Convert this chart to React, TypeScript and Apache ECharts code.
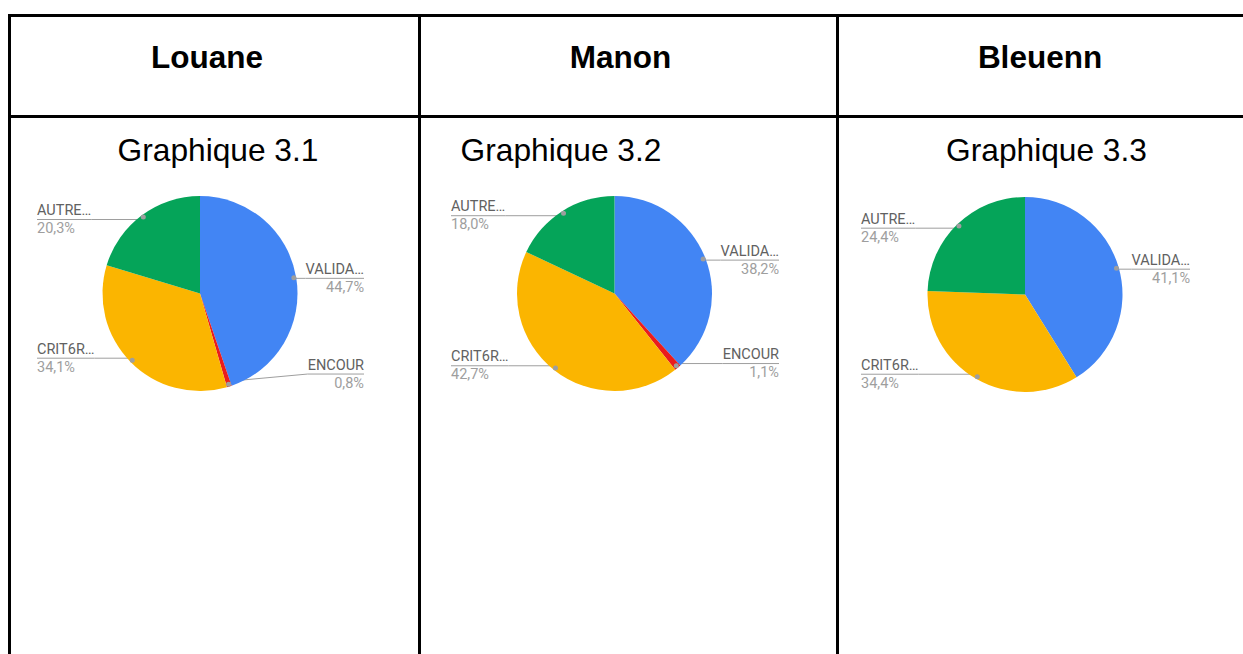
import React, { useEffect, useRef } from 'react';
import * as echarts from 'echarts';

// ---------- data ----------
const students = ['Louane', 'Manon', 'Bleuenn'];
const chartTitles = ['Graphique 3.1', 'Graphique 3.2', 'Graphique 3.3'];

const categories1 = ['VALIDA…', 'ENCOUR', 'CRIT6R…', 'AUTRE…'];
const values1 = [44.7, 0.8, 34.1, 20.3];

const categories2 = ['VALIDA…', 'ENCOUR', 'CRIT6R…', 'AUTRE…'];
const values2 = [38.2, 1.1, 42.7, 18.0];

const categories3 = ['VALIDA…', 'CRIT6R…', 'AUTRE…'];
const values3 = [41.1, 34.4, 24.4];

const categoryColors: Record<string, string> = {
  'VALIDA…': '#4285f4',
  'ENCOUR': '#ea1c1c',
  'CRIT6R…': '#fbb500',
  'AUTRE…': '#05a459',
};

// ---------- layout ----------
const W = 1243;
const H = 654;
const CENTERS: [number, number][] = [[200, 293.5], [614.5, 293.5], [1025, 294.5]];
const R = 97.5;
const DOT_RATIO = 0.945;
const CLAMP_RATIO = 0.826;
const LABEL_LEFT = [37, 451, 861];
const LABEL_RIGHT = [364, 779, 1190];
const HEADER_X = [207, 620.5, 1040];
const TITLE_X = [218, 561, 1046.5];

const fmtPct = (v: number) => v.toFixed(1).replace('.', ',') + '%';

export default function App() {
  const ref = useRef<HTMLDivElement>(null);

  useEffect(() => {
    if (!ref.current) return;
    const chart = echarts.init(ref.current, undefined, { renderer: 'svg' });

    const datasets = [
      { cats: categories1, vals: values1 },
      { cats: categories2, vals: values2 },
      { cats: categories3, vals: values3 },
    ];

    const mkLayout = (ci: number) => (params: any) => {
      const [cx, cy] = CENTERS[ci];
      const p0 = params.labelLinePoints && params.labelLinePoints[0];
      if (!p0) return {};
      const dx = p0[0] - cx;
      const dy = p0[1] - cy;
      const len = Math.sqrt(dx * dx + dy * dy) || 1;
      const dotX = cx + (dx / len) * R * DOT_RATIO;
      const dotY = cy + (dy / len) * R * DOT_RATIO;
      const isLeft = dx < 0;
      const lineY = Math.min(dotY, cy + R * CLAMP_RATIO);
      const edgeX = isLeft ? LABEL_LEFT[ci] : LABEL_RIGHT[ci];
      const w = params.labelRect ? params.labelRect.width : 0;
      const innerX = isLeft ? edgeX + w : edgeX - w;
      return {
        x: edgeX,
        y: lineY,
        align: isLeft ? 'left' : 'right',
        verticalAlign: 'middle',
        labelLinePoints: [
          [dotX, dotY],
          [innerX, lineY],
          [edgeX, lineY],
        ],
      };
    };

    const series: any[] = [];
    datasets.forEach((ds, ci) => {
      const data = ds.cats.map((c, i) => ({
        name: c,
        value: ds.vals[i],
        itemStyle: { color: categoryColors[c] },
      }));
      series.push({
        type: 'pie',
        center: CENTERS[ci],
        radius: R,
        startAngle: 90,
        clockwise: true,
        avoidLabelOverlap: false,
        silent: true,
        emphasis: { disabled: true },
        data,
        label: {
          show: true,
          position: 'outside',
          formatter: (p: any) => `{n|${p.name}}\n{p|${fmtPct(p.value)}}`,
          rich: {
            n: { fontFamily: 'Roboto', fontSize: 14.5, color: '#616161', lineHeight: 18 },
            p: { fontFamily: 'Roboto', fontSize: 14.5, color: '#9e9e9e', lineHeight: 18 },
          },
        },
        labelLine: {
          show: true,
          length: 5,
          length2: 5,
          lineStyle: { color: '#9e9e9e', width: 1 },
        },
        labelLayout: mkLayout(ci),
        z: 2,
      });
      series.push({
        type: 'pie',
        center: CENTERS[ci],
        radius: [R * 0.89, R],
        startAngle: 90,
        clockwise: true,
        silent: true,
        emphasis: { disabled: true },
        data: ds.cats.map((c, i) => ({ name: c, value: ds.vals[i] })),
        itemStyle: { color: 'rgba(0,0,0,0)' },
        label: {
          show: true,
          position: 'inside',
          formatter: '{d|}',
          rich: {
            d: { width: 5, height: 5, borderRadius: 2.5, backgroundColor: '#9e9e9e' },
          },
        },
        labelLine: { show: false },
        z: 3,
      });
    });

    const lineStyle = { stroke: '#000', lineWidth: 3 };
    const graphic: any[] = [
      { type: 'line', shape: { x1: 8, y1: 15.5, x2: W, y2: 15.5 }, style: lineStyle },
      { type: 'line', shape: { x1: 8, y1: 116.5, x2: W, y2: 116.5 }, style: lineStyle },
      { type: 'line', shape: { x1: 9.5, y1: 14, x2: 9.5, y2: H }, style: lineStyle },
      { type: 'line', shape: { x1: 419.5, y1: 14, x2: 419.5, y2: H }, style: lineStyle },
      { type: 'line', shape: { x1: 837.5, y1: 14, x2: 837.5, y2: H }, style: lineStyle },
    ];
    students.forEach((s, i) => {
      graphic.push({
        type: 'text',
        x: HEADER_X[i],
        y: 57,
        style: {
          text: s,
          fill: '#000',
          fontFamily: '"Liberation Sans", Arial, sans-serif',
          fontSize: 31.5,
          fontWeight: 'bold',
          textAlign: 'center',
          textVerticalAlign: 'middle',
        },
      });
    });
    chartTitles.forEach((t, i) => {
      graphic.push({
        type: 'text',
        x: TITLE_X[i],
        y: 149.5,
        style: {
          text: t,
          fill: '#000',
          fontFamily: '"Liberation Sans", Arial, sans-serif',
          fontSize: 31.7,
          textAlign: 'center',
          textVerticalAlign: 'middle',
        },
      });
    });

    chart.setOption({
      animation: false,
      backgroundColor: '#fff',
      series,
      graphic,
    });

    return () => chart.dispose();
  }, []);

  return (
    <div
      ref={ref}
      style={{ position: 'absolute', left: 0, top: 0, width: W, height: H }}
    />
  );
}
